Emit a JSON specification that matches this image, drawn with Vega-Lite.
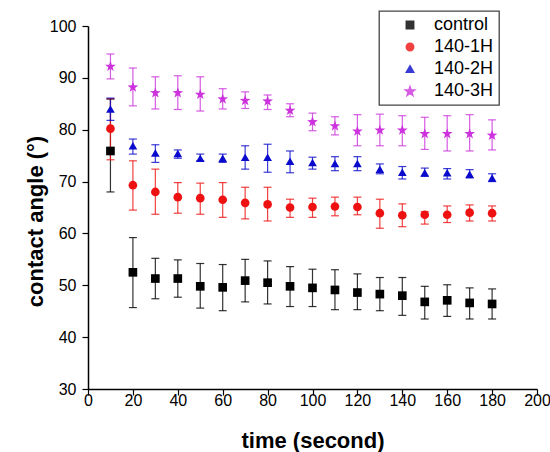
{
  "$schema": "https://vega.github.io/schema/vega-lite/v6.json",
  "width": 449,
  "height": 363,
  "autosize": {"type": "none"},
  "padding": {"left": 88, "top": 26, "right": 13, "bottom": 63},
  "background": "white",
  "config": {
    "view": {"stroke": null},
    "font": "Liberation Sans",
    "axis": {
      "grid": false,
      "domainColor": "#000000",
      "domainWidth": 1.5,
      "tickColor": "#000000",
      "tickWidth": 1.2,
      "labelColor": "#000000",
      "labelFontSize": 16,
      "labelFont": "Liberation Sans",
      "titleFont": "Liberation Sans",
      "titleFontSize": 22,
      "titleFontWeight": "bold",
      "titleColor": "#000000"
    },
    "legend": {
      "orient": "none",
      "legendX": 291,
      "legendY": -15,
      "strokeColor": "#444444",
      "strokeWidth": 1.3,
      "fillColor": "white",
      "padding": 5,
      "labelFontSize": 18,
      "labelFont": "Liberation Sans",
      "labelColor": "#000000",
      "symbolSize": 55,
      "rowPadding": 4,
      "labelOffset": 15,
      "symbolOffset": 17
    }
  },
  "data": {
    "values": [
      {"t": 10, "series": "control", "v": 75.9, "lo": 68.0, "hi": 85.9},
      {"t": 20, "series": "control", "v": 52.5, "lo": 45.7, "hi": 59.2},
      {"t": 30, "series": "control", "v": 51.3, "lo": 47.4, "hi": 55.2},
      {"t": 40, "series": "control", "v": 51.3, "lo": 47.7, "hi": 54.9},
      {"t": 50, "series": "control", "v": 49.8, "lo": 45.6, "hi": 54.2},
      {"t": 60, "series": "control", "v": 49.6, "lo": 45.1, "hi": 54.0},
      {"t": 70, "series": "control", "v": 50.9, "lo": 46.8, "hi": 55.0},
      {"t": 80, "series": "control", "v": 50.5, "lo": 46.4, "hi": 54.7},
      {"t": 90, "series": "control", "v": 49.8, "lo": 45.9, "hi": 53.6},
      {"t": 100, "series": "control", "v": 49.5, "lo": 45.9, "hi": 53.1},
      {"t": 110, "series": "control", "v": 49.1, "lo": 45.3, "hi": 53.0},
      {"t": 120, "series": "control", "v": 48.6, "lo": 45.3, "hi": 52.2},
      {"t": 130, "series": "control", "v": 48.3, "lo": 45.1, "hi": 51.5},
      {"t": 140, "series": "control", "v": 48.0, "lo": 44.2, "hi": 51.5},
      {"t": 150, "series": "control", "v": 46.8, "lo": 43.5, "hi": 49.8},
      {"t": 160, "series": "control", "v": 47.1, "lo": 44.0, "hi": 50.1},
      {"t": 170, "series": "control", "v": 46.6, "lo": 43.5, "hi": 49.5},
      {"t": 180, "series": "control", "v": 46.4, "lo": 43.5, "hi": 49.3},
      {"t": 10, "series": "140-1H", "v": 80.2, "lo": 74.2, "hi": 86.0},
      {"t": 20, "series": "140-1H", "v": 69.3, "lo": 64.5, "hi": 74.0},
      {"t": 30, "series": "140-1H", "v": 68.0, "lo": 63.7, "hi": 72.4},
      {"t": 40, "series": "140-1H", "v": 67.0, "lo": 63.9, "hi": 69.8},
      {"t": 50, "series": "140-1H", "v": 66.8, "lo": 63.7, "hi": 69.7},
      {"t": 60, "series": "140-1H", "v": 66.5, "lo": 63.1, "hi": 69.8},
      {"t": 70, "series": "140-1H", "v": 65.9, "lo": 62.8, "hi": 68.9},
      {"t": 80, "series": "140-1H", "v": 65.6, "lo": 62.4, "hi": 68.9},
      {"t": 90, "series": "140-1H", "v": 65.0, "lo": 63.1, "hi": 66.6},
      {"t": 100, "series": "140-1H", "v": 65.1, "lo": 63.1, "hi": 66.8},
      {"t": 110, "series": "140-1H", "v": 65.2, "lo": 63.4, "hi": 67.0},
      {"t": 120, "series": "140-1H", "v": 65.1, "lo": 63.6, "hi": 67.0},
      {"t": 130, "series": "140-1H", "v": 63.9, "lo": 61.0, "hi": 66.6},
      {"t": 140, "series": "140-1H", "v": 63.5, "lo": 61.3, "hi": 65.7},
      {"t": 150, "series": "140-1H", "v": 63.6, "lo": 61.8, "hi": 64.2},
      {"t": 160, "series": "140-1H", "v": 63.6, "lo": 62.1, "hi": 65.3},
      {"t": 170, "series": "140-1H", "v": 64.0, "lo": 62.4, "hi": 65.5},
      {"t": 180, "series": "140-1H", "v": 63.9, "lo": 62.4, "hi": 65.3},
      {"t": 10, "series": "140-2H", "v": 84.0, "lo": 81.8, "hi": 86.1},
      {"t": 20, "series": "140-2H", "v": 76.9, "lo": 75.3, "hi": 78.2},
      {"t": 30, "series": "140-2H", "v": 75.5, "lo": 73.7, "hi": 77.1},
      {"t": 40, "series": "140-2H", "v": 75.4, "lo": 74.5, "hi": 76.1},
      {"t": 50, "series": "140-2H", "v": 74.5, "lo": 74.0, "hi": 75.3},
      {"t": 60, "series": "140-2H", "v": 74.5, "lo": 73.7, "hi": 75.3},
      {"t": 70, "series": "140-2H", "v": 74.7, "lo": 72.4, "hi": 76.9},
      {"t": 80, "series": "140-2H", "v": 74.7, "lo": 71.8, "hi": 77.2},
      {"t": 90, "series": "140-2H", "v": 73.9, "lo": 71.7, "hi": 75.9},
      {"t": 100, "series": "140-2H", "v": 73.7, "lo": 72.4, "hi": 74.7},
      {"t": 110, "series": "140-2H", "v": 73.5, "lo": 72.1, "hi": 74.8},
      {"t": 120, "series": "140-2H", "v": 73.5, "lo": 72.1, "hi": 74.8},
      {"t": 130, "series": "140-2H", "v": 72.4, "lo": 71.5, "hi": 73.4},
      {"t": 140, "series": "140-2H", "v": 71.8, "lo": 70.5, "hi": 72.9},
      {"t": 150, "series": "140-2H", "v": 71.7, "lo": 71.0, "hi": 72.6},
      {"t": 160, "series": "140-2H", "v": 71.7, "lo": 70.5, "hi": 72.5},
      {"t": 170, "series": "140-2H", "v": 71.4, "lo": 70.7, "hi": 72.3},
      {"t": 180, "series": "140-2H", "v": 70.7, "lo": 70.0, "hi": 71.5},
      {"t": 10, "series": "140-3H", "v": 92.3, "lo": 89.8, "hi": 94.6},
      {"t": 20, "series": "140-3H", "v": 88.3, "lo": 84.6, "hi": 91.9},
      {"t": 30, "series": "140-3H", "v": 87.2, "lo": 84.0, "hi": 90.2},
      {"t": 40, "series": "140-3H", "v": 87.2, "lo": 83.9, "hi": 90.4},
      {"t": 50, "series": "140-3H", "v": 86.9, "lo": 83.6, "hi": 90.2},
      {"t": 60, "series": "140-3H", "v": 86.0, "lo": 84.0, "hi": 87.9},
      {"t": 70, "series": "140-3H", "v": 85.7, "lo": 84.1, "hi": 87.3},
      {"t": 80, "series": "140-3H", "v": 85.6, "lo": 83.9, "hi": 86.7},
      {"t": 90, "series": "140-3H", "v": 83.8, "lo": 82.5, "hi": 85.0},
      {"t": 100, "series": "140-3H", "v": 81.6, "lo": 79.8, "hi": 83.2},
      {"t": 110, "series": "140-3H", "v": 80.8, "lo": 79.0, "hi": 82.5},
      {"t": 120, "series": "140-3H", "v": 79.8, "lo": 76.9, "hi": 82.9},
      {"t": 130, "series": "140-3H", "v": 80.0, "lo": 76.9, "hi": 83.0},
      {"t": 140, "series": "140-3H", "v": 80.0, "lo": 76.9, "hi": 82.7},
      {"t": 150, "series": "140-3H", "v": 79.3, "lo": 76.2, "hi": 82.4},
      {"t": 160, "series": "140-3H", "v": 79.3, "lo": 75.9, "hi": 82.7},
      {"t": 170, "series": "140-3H", "v": 79.3, "lo": 75.9, "hi": 82.9},
      {"t": 180, "series": "140-3H", "v": 79.0, "lo": 76.1, "hi": 81.9}
    ]
  },
  "layer": [
    {
      "mark": {"type": "rule", "strokeWidth": 1.2, "opacity": 0.8},
      "encoding": {
        "x": {
          "field": "t",
          "type": "quantitative",
          "scale": {"domain": [0, 200], "nice": false, "zero": false},
          "axis": {
            "orient": "bottom",
            "title": "time (second)",
            "values": [0, 10, 20, 30, 40, 50, 60, 70, 80, 90, 100, 110, 120, 130, 140, 150, 160, 170, 180, 190, 200],
            "labelExpr": "datum.value % 20 === 0 ? datum.label : ''",
            "tickSize": {"condition": {"test": "datum.value % 20 === 0", "value": 6}, "value": 3},
            "labelPadding": -3,
            "titleY": 58,
            "titleBaseline": "alphabetic",
            "labelFlush": false,
            "labelOverlap": false
          }
        },
        "y": {
          "field": "lo",
          "type": "quantitative",
          "scale": {"domain": [30, 100], "nice": false, "zero": false},
          "axis": {
            "orient": "left",
            "title": "contact angle (°)",
            "values": [30, 35, 40, 45, 50, 55, 60, 65, 70, 75, 80, 85, 90, 95, 100],
            "labelExpr": "datum.value % 10 === 0 ? datum.label : ''",
            "tickSize": {"condition": {"test": "datum.value % 10 === 0", "value": 6}, "value": 3},
            "labelPadding": 6,
            "titleX": -46,
            "titleY": 195,
            "titleBaseline": "alphabetic",
            "labelFlush": false,
            "labelOverlap": false
          }
        },
        "y2": {"field": "hi"},
        "color": {
          "field": "series",
          "type": "nominal",
          "title": null,
          "scale": {
            "domain": ["control", "140-1H", "140-2H", "140-3H"],
            "range": ["#000000", "#ee1111", "#0a0acc", "#cc33dd"]
          }
        }
      }
    },
    {
      "mark": {"type": "tick", "orient": "horizontal", "size": 8, "thickness": 1.2, "opacity": 0.8},
      "encoding": {
        "x": {"field": "t", "type": "quantitative"},
        "y": {"field": "lo", "type": "quantitative"},
        "color": {"field": "series", "type": "nominal", "title": null}
      }
    },
    {
      "mark": {"type": "tick", "orient": "horizontal", "size": 8, "thickness": 1.2, "opacity": 0.8},
      "encoding": {
        "x": {"field": "t", "type": "quantitative"},
        "y": {"field": "hi", "type": "quantitative"},
        "color": {"field": "series", "type": "nominal", "title": null}
      }
    },
    {
      "mark": {"type": "point", "filled": true, "opacity": 1, "size": 75},
      "encoding": {
        "x": {"field": "t", "type": "quantitative"},
        "y": {"field": "v", "type": "quantitative"},
        "color": {"field": "series", "type": "nominal", "title": null},
        "shape": {
          "field": "series",
          "type": "nominal",
          "title": null,
          "scale": {
            "domain": ["control", "140-1H", "140-2H", "140-3H"],
            "range": ["square", "circle", "triangle-up", "M0,-1.18L0.306,-0.301L1.236,-0.282L0.494,0.281L0.764,1.172L0,0.64L-0.764,1.172L-0.494,0.281L-1.236,-0.282L-0.306,-0.301Z"]
          }
        }
      }
    }
  ]
}
